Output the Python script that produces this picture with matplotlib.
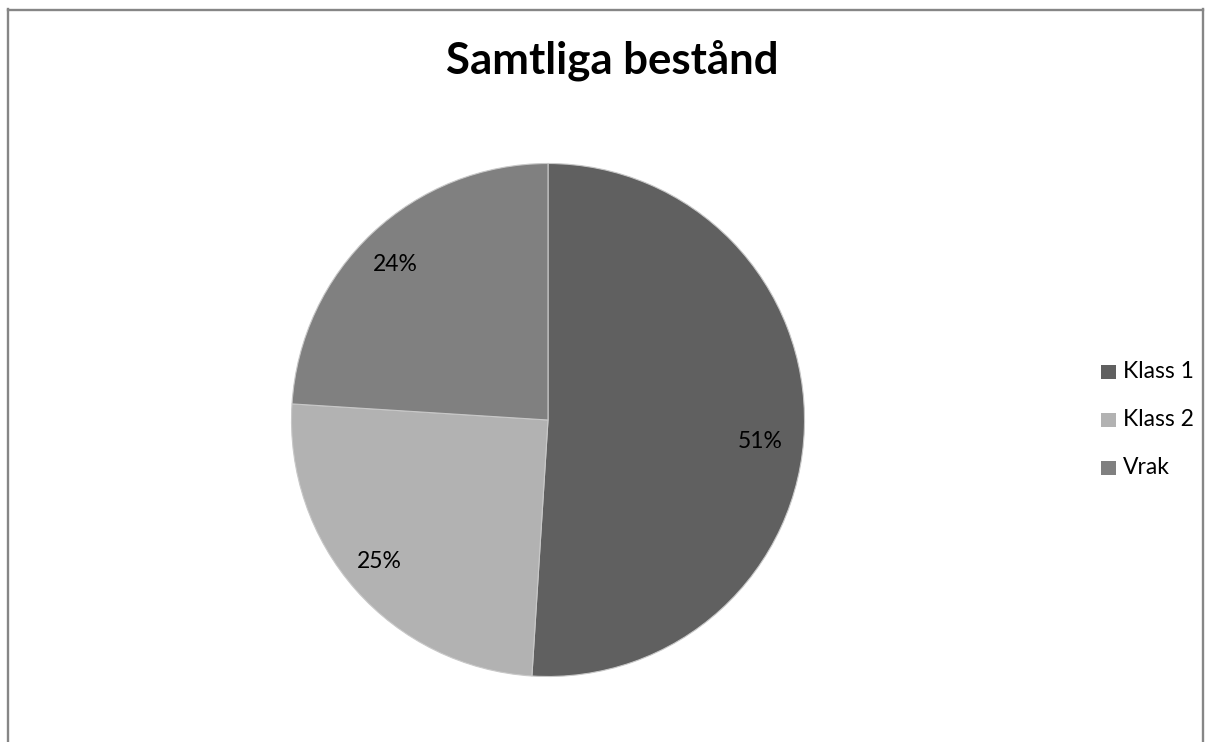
import matplotlib
matplotlib.use("Agg")
import matplotlib.pyplot as plt
import numpy as np
from matplotlib.patches import Rectangle
from matplotlib.lines import Line2D

categories = ["Klass 1", "Klass 2", "Vrak"]
values = [51, 25, 24]
colors = ["#606060", "#b2b2b2", "#808080"]
label_radius = [0.83, 0.86, 0.85]
label_angle_offset = [-4.0, -1.4, 1.2]

plt.rcParams['font.family'] = ['Lato', 'DejaVu Sans']

W, H = 1212, 742
fig = plt.figure(figsize=(W / 100, H / 100), dpi=100)

# frame border (no bottom edge visible)
bc = "#868686"
fig.add_artist(Line2D([8 / W, 8 / W], [0, 1 - 9 / H], color=bc, lw=1.7, transform=fig.transFigure))
fig.add_artist(Line2D([8 / W, 1203 / W], [1 - 9.5 / H, 1 - 9.5 / H], color=bc, lw=1.7, transform=fig.transFigure))
fig.add_artist(Line2D([1203 / W, 1203 / W], [0, 1 - 9 / H], color=bc, lw=1.7, transform=fig.transFigure))

cx, cy, r = 548, 420, 256.5
ax = fig.add_axes([(cx - r) / W, (H - cy - r) / H, 2 * r / W, 2 * r / H])
wedges, texts, autotexts = ax.pie(
    values, colors=colors, startangle=90, counterclock=False,
    autopct=lambda p: f"{p:.0f}%", pctdistance=0.8,
    wedgeprops=dict(edgecolor="#c8c8c8", linewidth=0.8),
    textprops=dict(fontsize=16.5, color="#000000"),
)
for w, t, lr, off in zip(wedges, autotexts, label_radius, label_angle_offset):
    th = np.deg2rad((w.theta1 + w.theta2) / 2 + off)
    t.set_position((lr * np.cos(th), lr * np.sin(th)))
ax.set_xlim(-1, 1)
ax.set_ylim(-1, 1)
ax.axis("off")

fig.text(612 / W, 1 - 60 / H, "Samtliga bestånd", ha="center", va="center",
         fontsize=31.5, fontweight="bold", color="#000000")

ys = [372, 420, 468]
for cat, col, y in zip(categories, colors, ys):
    fig.add_artist(Rectangle((1101 / W, 1 - (y + 7) / H), 15 / W, 14 / H,
                             facecolor=col, edgecolor="none", transform=fig.transFigure))
    fig.text(1123 / W, 1 - y / H, cat, ha="left", va="center", fontsize=16.5, color="#000000")

fig.savefig("out.png", dpi=100)
